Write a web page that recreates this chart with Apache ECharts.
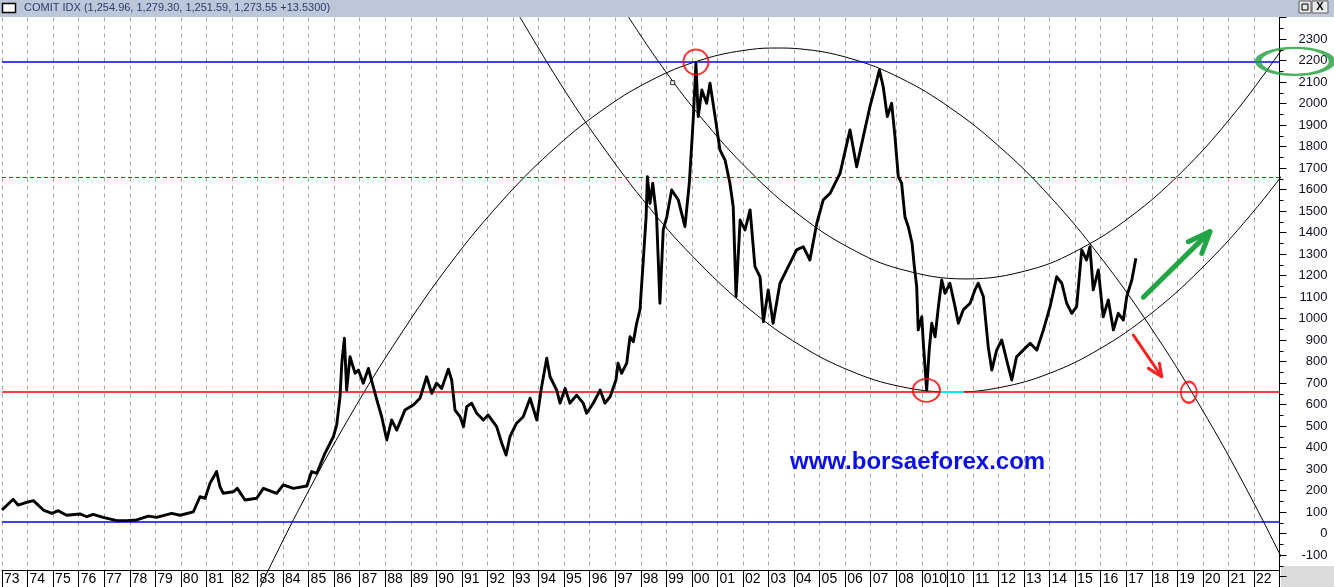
<!DOCTYPE html>
<html><head><meta charset="utf-8">
<script src="https://cdn.jsdelivr.net/npm/echarts@6/dist/echarts.min.js"></script>
<style>html,body{margin:0;padding:0;background:#fff}#c{width:1334px;height:587px}</style>
</head><body><div id="c"></div>
<script>
const titleText = 'COMIT IDX (1,254.96, 1,279.30, 1,251.59, 1,273.55 +13.5300)';
const siteText = 'www.borsaeforex.com';
const yearLabels = ["73","74","75","76","77","78","79","80","81","82","83","84","85","86","87","88","89","90","91","92","93","94","95","96","97","98","99","00","01","02","03","04","05","06","07","08","010","10","11","12","13","14","15","16","17","18","19","20","21","22"];

const priceYears = [1973.00,1973.44,1973.63,1973.90,1974.23,1974.62,1974.95,1975.20,1975.53,1976.05,1976.32,1976.57,1976.96,1977.49,1977.88,1978.27,1978.73,1979.05,1979.64,1979.97,1980.49,1980.75,1980.95,1981.14,1981.40,1981.53,1981.66,1982.05,1982.21,1982.51,1982.97,1983.23,1983.75,1984.01,1984.40,1984.93,1985.12,1985.32,1985.64,1985.97,1986.10,1986.23,1986.30,1986.40,1986.49,1986.62,1986.82,1986.95,1987.14,1987.34,1987.53,1987.67,1987.86,1988.06,1988.25,1988.45,1988.77,1989.10,1989.36,1989.62,1989.82,1990.01,1990.21,1990.47,1990.60,1990.73,1990.93,1991.06,1991.19,1991.38,1991.58,1991.84,1992.03,1992.36,1992.56,1992.73,1992.88,1993.14,1993.40,1993.67,1993.93,1994.12,1994.32,1994.45,1994.71,1994.84,1995.04,1995.23,1995.49,1995.75,1995.88,1996.14,1996.41,1996.60,1996.80,1997.03,1997.11,1997.25,1997.45,1997.58,1997.71,1997.84,1997.97,1998.10,1998.21,1998.26,1998.36,1998.47,1998.62,1998.75,1998.88,1999.02,1999.21,1999.47,1999.73,1999.90,1999.99,2000.06,2000.16,2000.25,2000.39,2000.58,2000.71,2000.91,2001.10,2001.30,2001.49,2001.62,2001.73,2001.89,2002.08,2002.28,2002.47,2002.67,2002.80,2002.99,2003.18,2003.45,2003.71,2004.10,2004.36,2004.62,2004.89,2005.14,2005.41,2005.80,2006.19,2006.45,2006.71,2006.97,2007.21,2007.34,2007.49,2007.65,2007.82,2007.95,2008.08,2008.21,2008.34,2008.47,2008.62,2008.70,2008.80,2008.86,2009.00,2009.06,2009.19,2009.29,2009.39,2009.52,2009.65,2009.78,2009.91,2010.10,2010.30,2010.43,2010.62,2010.89,2011.08,2011.21,2011.41,2011.60,2011.74,2011.93,2012.13,2012.32,2012.52,2012.71,2012.97,2013.24,2013.50,2013.76,2014.02,2014.28,2014.48,2014.67,2014.87,2015.06,2015.26,2015.45,2015.58,2015.71,2015.91,2016.10,2016.30,2016.50,2016.69,2016.89,2017.02,2017.22,2017.38];
const priceValues = [109,159,132,143,153,109,94,106,85,91,78,89,75,60,60,63,81,75,94,85,101,171,164,233,288,218,187,194,210,156,164,210,187,226,210,221,288,280,373,450,505,636,792,908,667,822,745,760,699,768,683,621,543,435,528,481,574,598,629,729,652,699,675,764,714,574,543,497,590,606,559,528,551,497,420,365,450,513,543,629,528,683,815,729,667,606,675,606,644,606,559,606,667,606,636,714,792,745,792,915,892,978,1040,1272,1473,1660,1536,1629,1473,1071,1412,1473,1598,1551,1427,1629,1800,1939,2187,1939,2063,2001,2094,1939,1784,1737,1629,1520,1101,1458,1412,1505,1241,1194,985,1133,978,1164,1226,1319,1334,1272,1443,1551,1582,1675,1877,1706,1846,1985,2094,2156,2078,1939,2001,1846,1660,1629,1473,1427,1350,1250,1148,947,1008,885,667,853,978,915,1055,1179,1117,1164,1055,978,1040,1071,1133,1164,1101,869,760,853,900,807,714,822,853,885,853,947,1055,1194,1164,1071,1024,1055,1319,1272,1334,1133,1226,1008,1086,947,1024,993,1101,1179,1280];

// arcs: [year, value]
const arcOuter = [[1983.10,-250],[1984.66,122],[1986.62,546],[1988.58,922],[1990.53,1253],[1992.49,1536],[1994.45,1772],[1996.41,1962],[1998.36,2105],[2000.32,2201],[2002.28,2251],[2003.37,2258],[2004.23,2254],[2006.19,2210],[2008.15,2119],[2010.10,1981],[2012.06,1797],[2014.02,1567],[2015.97,1289],[2017.93,964],[2019.89,593],[2021.85,175],[2023.65,-250]];
const arcLower = [[1993.27,2402],[1994.84,2095],[1996.41,1817],[1998.36,1512],[2000.32,1254],[2002.28,1041],[2004.23,876],[2006.19,757],[2008.15,684],[2010.22,658],[2012.06,679],[2014.02,746],[2015.97,859],[2017.93,1019],[2019.89,1226],[2021.85,1479],[2023.80,1778],[2025.13,2008]];
const arcMiddle = [[1997.50,2406],[1998.75,2186],[2000.32,1941],[2002.28,1683],[2004.23,1479],[2006.19,1327],[2008.15,1230],[2010.73,1184],[2013.24,1227],[2015.19,1323],[2017.15,1472],[2019.11,1674],[2021.06,1929],[2023.02,2239],[2023.96,2406]];

const levelBlueTop = 2193, levelBlueBottom = 53, levelRed = 658, levelRedDash = 1658;
const cyanSpan = [2009.67, 2010.65];
const redCircles = [[2000.16,2193,25,25],[2009.18,666,27,23],[2019.45,657,16,21]];
const greenEllipse = [2023.61, 2196, 74, 27];
const greenArrow = [[2017.67,1099],[2020.28,1404]];
const greenHead = [[2019.43,1357],[2020.28,1404],[2019.96,1303]];
const redArrow = [[2017.28,923],[2018.39,729]];
const redHead = [[2017.87,768],[2018.39,729],[2018.30,792]];
const markerPt = [1999.25, 2097];

const priceData = priceYears.map((y,i)=>[y, priceValues[i]]);

const chart = echarts.init(document.getElementById('c'), null, {renderer:'canvas'});
const FONT = '"Liberation Sans", Arial, sans-serif';
const arcSeries = (data)=>({type:'line', data, smooth:0.4, showSymbol:false, clip:false, silent:true,
  lineStyle:{color:'#000', width:1}, z:4, xAxisIndex:0, yAxisIndex:0});
const segSeries = (data,color,width)=>({type:'line', data, showSymbol:false, silent:true, clip:false,
  lineStyle:{color, width, cap:'round', join:'round'}, z:6, xAxisIndex:0, yAxisIndex:0});

chart.setOption({
  animation:false,
  backgroundColor:'#fff',
  grid:[
    {left:2, top:17.5, width:1277.5, height:559, containLabel:false},
    {left:2, top:570, width:1277.5, height:17, containLabel:false}
  ],
  xAxis:[
    {gridIndex:0, type:'value', min:1973, max:2023, interval:1,
     axisLine:{show:false}, axisTick:{show:false}, axisLabel:{show:false},
     splitLine:{show:true, lineStyle:{color:'#a3aa9c', width:1, type:[4,4]}}},
    {gridIndex:1, type:'value', min:1973, max:2023, interval:1, position:'top',
     axisLine:{show:true, onZero:false, lineStyle:{color:'#000', width:1}}, axisTick:{show:false},
     splitLine:{show:true, lineStyle:{color:'#000', width:1}},
     axisLabel:{show:true, inside:true, margin:2, align:'left', verticalAlign:'top', padding:[0,0,0,2],
       fontSize:14, fontFamily:FONT, color:'#000',
       formatter:(v)=>yearLabels[Math.round(v-1973)] || ''}}
  ],
  yAxis:[
    {gridIndex:0, type:'value', position:'right', min:-200, max:2400, interval:100,
     axisLine:{show:true, lineStyle:{color:'#000', width:1}},
     axisTick:{show:true, length:7, lineStyle:{color:'#000'}},
     minorTick:{show:true, splitNumber:2, length:4, lineStyle:{color:'#000'}},
     splitLine:{show:false},
     axisLabel:{show:true, margin:48, align:'right', fontSize:13, fontFamily:FONT, color:'#101020',
       formatter:(v)=>(v===-200||v===2400)?'':String(v)}},
    {gridIndex:1, type:'value', min:0, max:1, show:false}
  ],
  series:[
    {name:'levels', type:'line', data:[], xAxisIndex:0, yAxisIndex:0, silent:true, z:3,
     markLine:{silent:true, symbol:['none','none'], label:{show:false}, animation:false,
       data:[
         {yAxis:levelBlueTop, lineStyle:{color:'#0000ff', width:1.5, type:'solid'}},
         {yAxis:levelBlueBottom, lineStyle:{color:'#0000ff', width:1.5, type:'solid'}},
         {yAxis:levelRed, lineStyle:{color:'#ff0000', width:1.5, type:'solid'}},
         {yAxis:levelRedDash, lineStyle:{color:'#d01010', width:1, type:[4,3]}},
         [{coord:[cyanSpan[0], levelRed], lineStyle:{color:'#00e8f0', width:2, type:'solid'}},{coord:[cyanSpan[1], levelRed]}]
       ]}},
    arcSeries(arcOuter),
    arcSeries(arcLower),
    arcSeries(arcMiddle),
    {name:'COMIT', type:'line', data:priceData, showSymbol:false, xAxisIndex:0, yAxisIndex:0, z:5,
     lineStyle:{color:'#000', width:2.9, join:'round'}},
    {type:'scatter', data:[markerPt], symbol:'rect', symbolSize:4, silent:true, z:6,
     itemStyle:{color:'#fff', borderColor:'#000', borderWidth:1}},
    {type:'scatter', silent:true, clip:false, z:7,
     data:redCircles.map(c=>({value:[c[0],c[1]], symbolSize:[c[2],c[3]]})),
     symbol:'circle', itemStyle:{color:'rgba(0,0,0,0)', borderColor:'#ff0000', borderWidth:2}},
    {type:'scatter', silent:true, clip:false, z:7,
     data:[{value:[greenEllipse[0],greenEllipse[1]], symbolSize:[greenEllipse[2],greenEllipse[3]]}],
     symbol:'circle', itemStyle:{color:'rgba(0,0,0,0)', borderColor:'#1f9e3c', borderWidth:4}},
    segSeries(greenArrow,'#22a545',5),
    segSeries(greenHead,'#22a545',5),
    segSeries(redArrow,'#ff2020',3),
    segSeries(redHead,'#ff2020',3)
  ],
  graphic:[
    {type:'rect', z:20, shape:{x:0,y:0,width:1334,height:17}, style:{fill:'#bcc7da'}},
    {type:'rect', z:21, shape:{x:2.5,y:3.5,width:13,height:9}, style:{fill:'#fff', stroke:'#000', lineWidth:1.5}},
    {type:'text', z:21, x:24, y:2.5, style:{text:titleText, fontSize:11, fontFamily:FONT, fill:'#2e3c6c', align:'left', verticalAlign:'top'}},
    {type:'rect', z:21, shape:{x:1299,y:1,width:12,height:12}, style:{fill:'#e8e8e8', stroke:'#606060', lineWidth:1}},
    {type:'rect', z:22, shape:{x:1302,y:4,width:6,height:6}, style:{fill:'none', stroke:'#000', lineWidth:1}},
    {type:'rect', z:21, shape:{x:1312,y:1,width:16,height:12}, style:{fill:'#e8e8e8', stroke:'#606060', lineWidth:1}},
    {type:'text', z:22, x:1320, y:1.5, style:{text:'X', fontSize:11, fontFamily:FONT, fontWeight:'bold', fill:'#000', align:'center', verticalAlign:'top'}},
    {type:'rect', z:-1, shape:{x:1281,y:566,width:53,height:21}, style:{fill:'#dcdcdc'}},
    {type:'text', z:8, x:790, y:450, style:{text:siteText, fontSize:24, fontWeight:'bold', fontFamily:FONT, fill:'#0a10e6', align:'left', verticalAlign:'top'}}
  ]
});
</script></body></html>
